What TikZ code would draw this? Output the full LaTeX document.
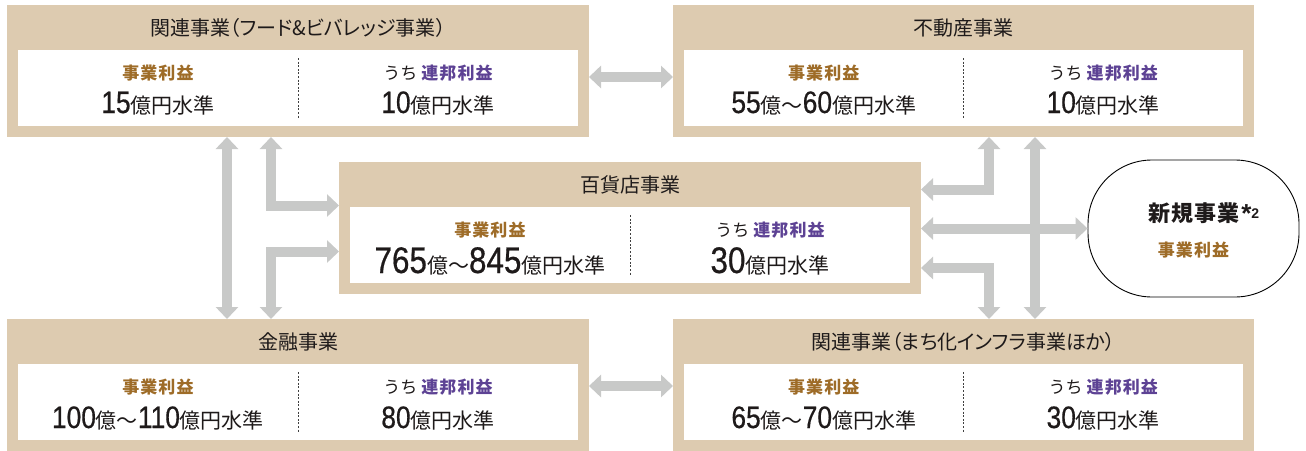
\documentclass[tikz,border=0pt]{standalone}
\usepackage{fontspec}
\setmainfont{Noto Sans CJK JP}
\newfontfamily\numfont{Liberation Sans}[FakeStretch=0.85,FakeBold=0.5]
\newfontfamily\astfont{Liberation Sans}
\usetikzlibrary{arrows.meta}
\definecolor{beige}{RGB}{221,203,176}
\definecolor{arrgray}{RGB}{200,201,200}
\definecolor{brownt}{RGB}{158,108,40}
\definecolor{purp}{RGB}{93,66,148}
\definecolor{ink}{RGB}{30,26,26}
\newcommand\titlefont{\fontsize{20}{20}\selectfont\addfontfeature{RawFeature=+palt}}
\newcommand\labfont{\fontsize{17}{17}\selectfont}
\newcommand\lsp{\addfontfeature{LetterSpace=6}}
\newcommand\dg[1]{{\numfont\fontsize{31}{31}\selectfont #1}}
\newcommand\dgm[1]{{\numfont\fontsize{37}{37}\selectfont #1}}
\newcommand\kj[1]{{\fontsize{21}{21}\selectfont #1}}
\newcommand\bizbox[8]{%
  \node[bbox, minimum width=#4pt, anchor=north] (#1) at (#2,#3) {};
  \node[wbox, minimum width=#4pt-22pt, anchor=north] (#1w) at (#2,#3+45) {};
  \node[ttl] (#1t) at (#2,#3+23) {#5};
  \draw[divline] ([yshift=-8pt]#1w.north) -- ([yshift=8pt]#1w.south);
  \node[lab] (#1a) at (#2-#4/4+5.5,#3+68) {\textcolor{brownt}{\bfseries\lsp 事業利益}};
  \node[lab] (#1b) at (#2+#4/4-5.5,#3+68) {うち\hspace{4pt}\textcolor{purp}{\bfseries\lsp 連邦利益}};
  \node[val] (#1c) at (#2-#4/4+5.5,#3+#8) {#6};
  \node[val] (#1d) at (#2+#4/4-5.5,#3+#8) {#7};
}
\tikzset{
  bbox/.style={fill=beige, draw=none, inner sep=0pt, outer sep=0pt, minimum height=132pt},
  wbox/.style={fill=white, draw=none, inner sep=0pt, outer sep=0pt, minimum height=76pt},
  ttl/.style={inner sep=0pt, font=\titlefont, text=ink},
  lab/.style={inner sep=0pt, font=\labfont, text=ink},
  val/.style={inner sep=0pt, anchor=base, text=ink},
  divline/.style={draw=black!75, line width=0.8pt, dash pattern=on 2pt off 1.6pt},
  garrow/.style={draw=arrgray, line width=10pt, line join=miter,
    {Triangle[width=22pt,length=12pt]}-{Triangle[width=22pt,length=12pt]}},
  newbiz/.style={draw=black, line width=0.9pt, rounded corners=64pt, fill=white,
    minimum width=211pt, minimum height=137pt, inner sep=0pt},
}
\begin{document}
\begin{tikzpicture}[x=1pt,y=-1pt]
\useasboundingbox (0,0) rectangle (1306,450);
\fill[white] (0,0) rectangle (1306,450);
\bizbox{fb}{298}{5}{582}{関連事業（フード\&ビバレッジ事業）}{\dg{15}\kj{億円水準}}{\dg{10}\kj{億円水準}}{108}
\bizbox{re}{963.5}{5}{581}{不動産事業}{\dg{55}\kj{億〜}\dg{60}\kj{億円水準}}{\dg{10}\kj{億円水準}}{108}
\bizbox{dept}{630}{162}{582}{百貨店事業}{\dgm{765}\kj{億〜}\dgm{845}\kj{億円水準}}{\dgm{30}\kj{億円水準}}{111}
\bizbox{fin}{298}{319}{582}{金融事業}{\dg{100}\kj{億〜}\dg{110}\kj{億円水準}}{\dg{80}\kj{億円水準}}{109}
\bizbox{town}{963.5}{319}{581}{関連事業（まち化インフラ事業ほか）}{\dg{65}\kj{億〜}\dg{70}\kj{億円水準}}{\dg{30}\kj{億円水準}}{109}
% new business
\node[newbiz] (new) at (1193.5,228.5) {};
\node[inner sep=0pt, text=ink] (newt) at (1194,213)
  {\fontsize{22}{22}\selectfont\bfseries\addfontfeature{LetterSpace=4}新規事業\rlap{\hspace{2pt}\raisebox{-1pt}{\astfont\fontsize{26}{26}\selectfont *}\raisebox{3pt}{\astfont\fontsize{14}{14}\selectfont 2}}};
\node[lab] (newl) at (1193.5,250) {\textcolor{brownt}{\bfseries\lsp 事業利益}};
% arrows
\draw[garrow] (fb.east |- 0,77) -- (re.west |- 0,77);
\draw[garrow] (fin.east |- 0,386) -- (town.west |- 0,386);
\draw[garrow] (227,0 |- fb.south) -- (227,0 |- fin.north);
\draw[garrow] (271,0 |- fb.south) |- (dept.west |- 0,205.5);
\draw[garrow] (271,0 |- fin.north) |- (dept.west |- 0,251.5);
\draw[garrow] (989,0 |- re.south) |- (dept.east |- 0,189.5);
\draw[garrow] (989,0 |- town.north) |- (dept.east |- 0,268);
\draw[garrow] (1035,0 |- re.south) -- (1035,0 |- town.north);
\draw[garrow] (dept.east |- new.west) -- (new.west);
\end{tikzpicture}
\end{document}
